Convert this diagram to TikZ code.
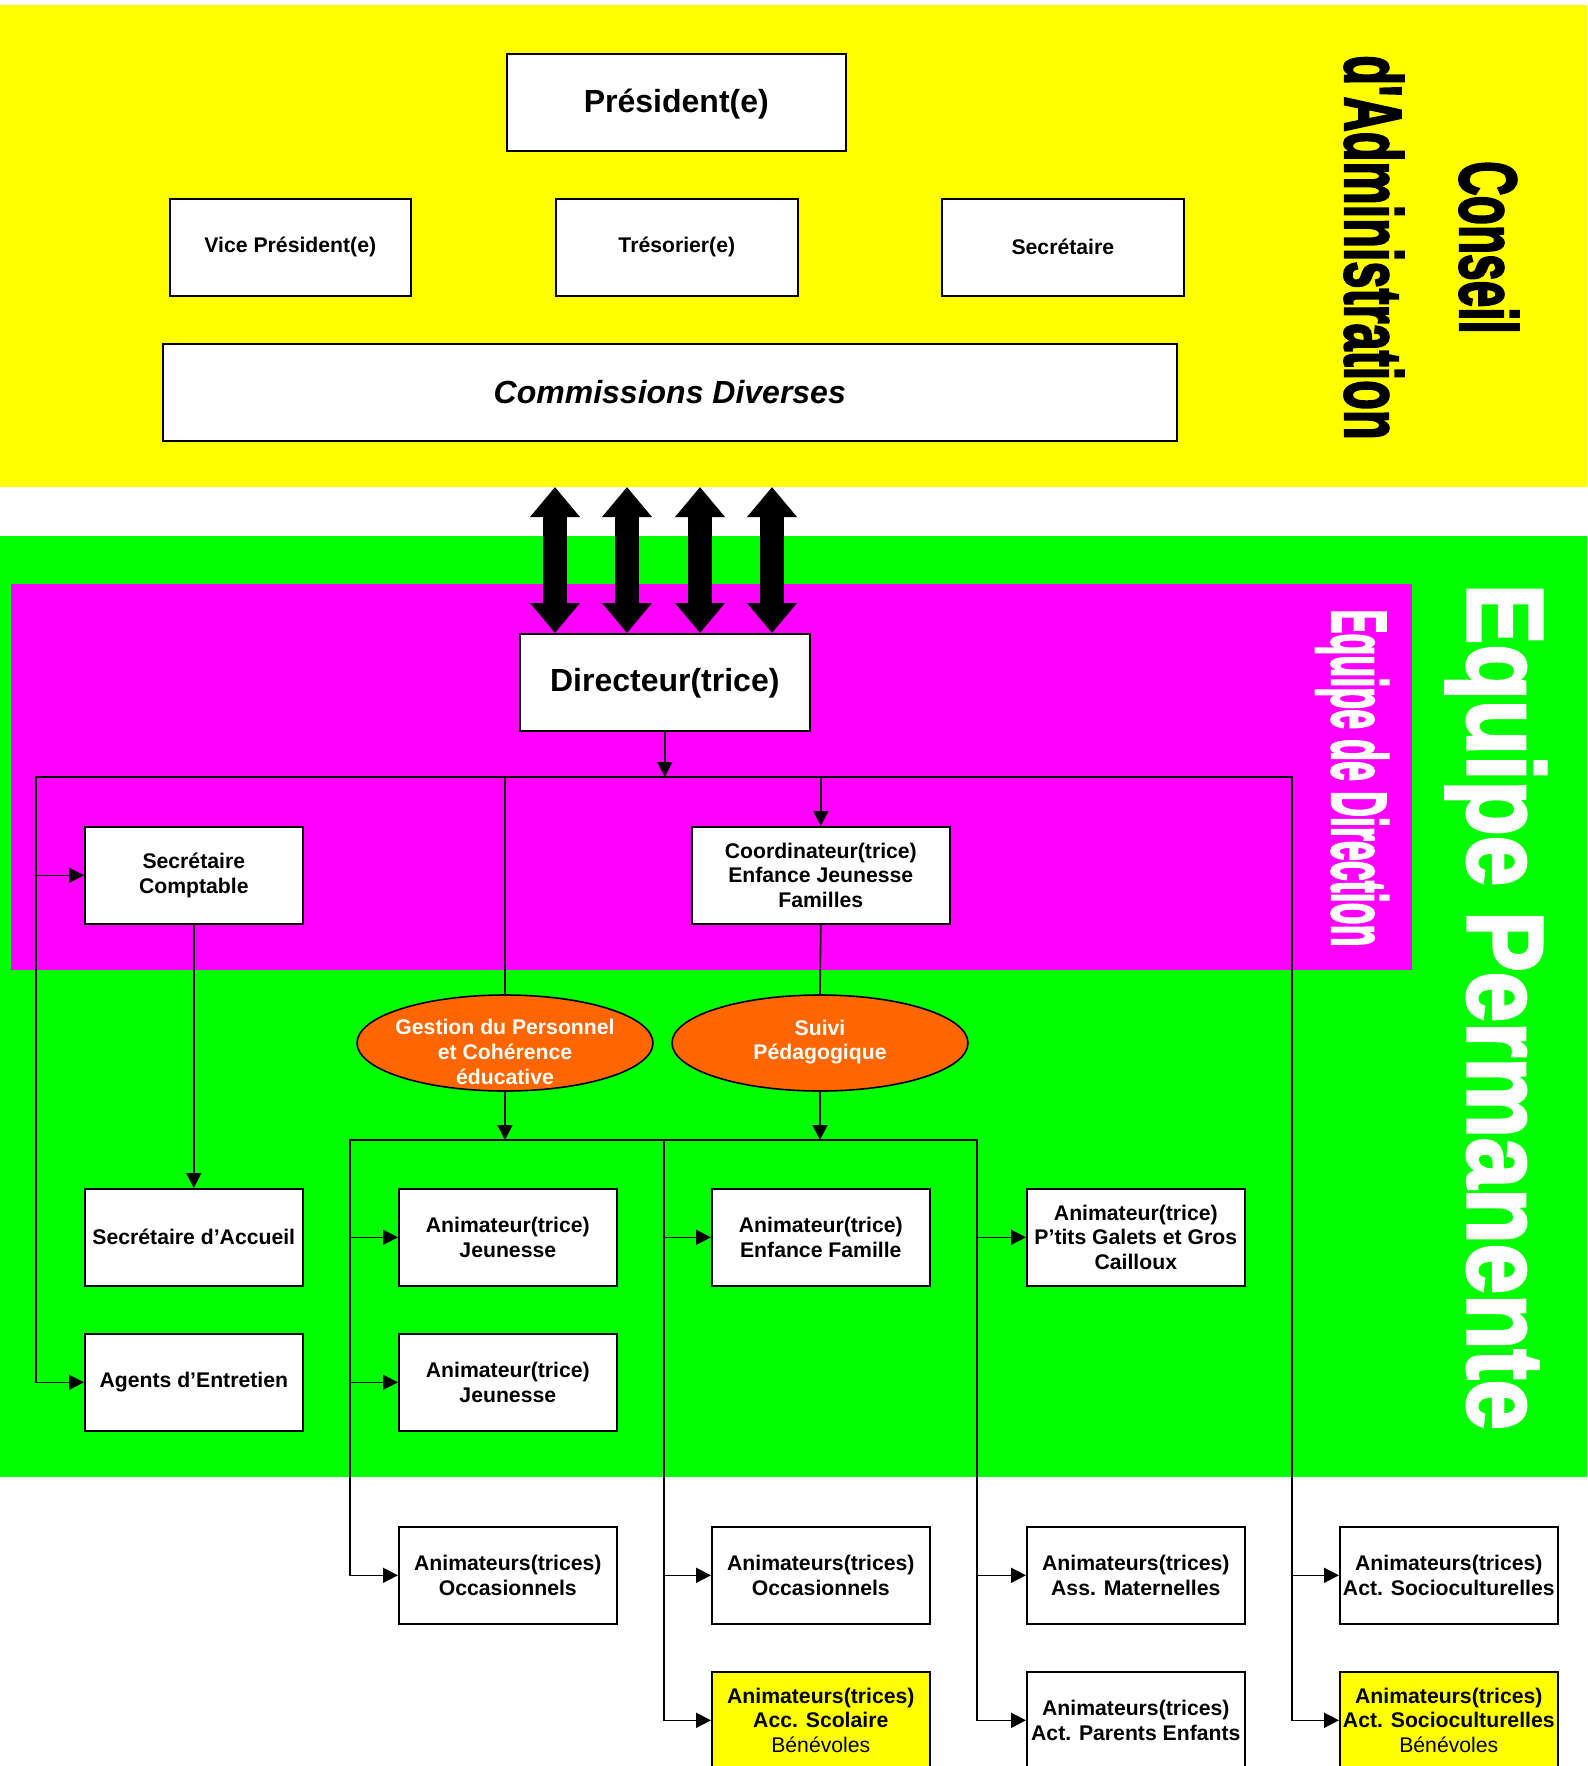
\documentclass[tikz,border=0pt]{standalone}
\usepackage{fontspec}
\usepackage{graphicx}
\setmainfont{Liberation Sans}
\newfontfamily\heavyfont{Liberation Sans Bold}[FakeBold=3]
\usetikzlibrary{arrows.meta,shapes.geometric}
\definecolor{cyel}{HTML}{FFFF00}
\definecolor{cgrn}{HTML}{00FF00}
\definecolor{cmag}{HTML}{FF00FF}
\definecolor{corg}{HTML}{FF6600}
\begin{document}
\begin{tikzpicture}[x=1pt,y=-1pt,
 box/.style={draw, line width=1.6pt, fill=white, anchor=north west, minimum width=218pt, minimum height=97pt, inner sep=0pt, align=center, font=\fontsize{21.2}{24.8}\selectfont\bfseries},
 bigbox/.style={box, font=\fontsize{32}{38}\selectfont\bfseries},
 ell/.style={draw, line width=1.6pt, ellipse, fill=corg, minimum width=296pt, minimum height=96pt, inner sep=0pt},
 elltext/.style={text=white, align=center, font=\fontsize{21.2}{24.8}\selectfont\bfseries, inner sep=0pt},
 conn/.style={line width=1.6pt, line cap=rect},
 arr/.style={conn, -{Triangle[length=15pt,width=15pt]}},
 dbl/.style={line width=24pt, {Triangle[length=30pt,width=48pt]}-{Triangle[length=30pt,width=48pt]}},
 vlabel/.style={rotate=-90, anchor=base, inner sep=0pt},
]
\useasboundingbox (0,0) rectangle (1587,1766);
% backgrounds
\fill[cyel] (0,5) rectangle (1587,487);
\fill[cgrn] (0,536) rectangle (1587,1477);
\fill[cmag] (11,584) rectangle (1412,970);
\coordinate (cabot) at (0,487);

% vertical labels
\node[vlabel, font=\fontsize{81}{81}\selectfont\heavyfont] (conseil) at (1460,247.5) {\scalebox{0.59}[1]{Conseil}};
\node[vlabel, font=\fontsize{81}{81}\selectfont\heavyfont] (admin) at (1345,247.5) {\scalebox{0.6}[1]{d'Administration}};
\node[vlabel, text=white, font=\fontsize{107.5}{107.5}\selectfont\heavyfont] (eperm) at (1468,1007) {\scalebox{0.843}[1]{Equipe Permanente}};
\node[vlabel, text=white, font=\fontsize{78}{78}\selectfont\heavyfont] (edir) at (1332,778) {\scalebox{0.46}[1]{Equipe de Direction}};

% conseil
\node[bigbox, minimum width=339pt, text depth=4pt] (pres) at (506,53) {Président(e)};
\node[box, minimum width=241pt] (vice) at (169,198) {Vice Président(e)};
\node[box, minimum width=242pt] (treso) at (555,198) {Trésorier(e)};
\node[box, minimum width=242pt] (secr) at (941,198) {Secrétaire};
\node[bigbox, minimum width=1014pt, font=\fontsize{32}{38}\selectfont\bfseries\itshape] (comm) at (162,343) {Commissions Diverses};

% direction
\node[bigbox, minimum width=290pt, text depth=4pt] (dir) at (519,633) {Directeur(trice)};
\node[box] (seccpt) at (84,826) {Secrétaire\\Comptable};
\node[box, minimum width=258pt] (coord) at (691,826) {Coordinateur(trice)\\Enfance Jeunesse\\Familles};
\node[ell] (gest) at (505,1043) {};
\node[ell] (suivi) at (820,1043) {};
\node[elltext] (gestt) at (505,1052) {Gestion du Personnel\\et Cohérence\\éducative};
\node[elltext] (suivit) at (820,1042) {Suivi\\Pédagogique};

% staff
\node[box] (accueil) at (84,1188) {Secrétaire d’Accueil};
\node[box] (agents) at (84,1333) {Agents d’Entretien};
\node[box] (jeun1) at (398,1188) {Animateur(trice)\\Jeunesse};
\node[box] (jeun2) at (398,1333) {Animateur(trice)\\Jeunesse};
\node[box] (enf) at (711,1188) {Animateur(trice)\\Enfance Famille};
\node[box] (galets) at (1026,1188) {Animateur(trice)\\P’tits Galets et Gros\\Cailloux};
\node[box] (occ1) at (398,1526) {Animateurs(trices)\\Occasionnels};
\node[box] (occ2) at (711,1526) {Animateurs(trices)\\Occasionnels};
\node[box] (assmat) at (1026,1526) {Animateurs(trices)\\Ass. Maternelles};
\node[box] (socio) at (1339,1526) {Animateurs(trices)\\Act. Socioculturelles};
\node[box, fill=cyel] (accsc) at (711,1671) {Animateurs(trices)\\Acc. Scolaire\\{\mdseries Bénévoles}};
\node[box] (parents) at (1026,1671) {Animateurs(trices)\\Act. Parents Enfants};
\node[box, fill=cyel] (sociob) at (1339,1671) {Animateurs(trices)\\Act. Socioculturelles\\{\mdseries Bénévoles}};

% thick double arrows
\foreach \x in {555,627,700,772} \draw[dbl] (\x,0 |- cabot) -- (\x,0 |- dir.north);

% top bus
\coordinate (bL) at (36,777);
\coordinate (bR) at (1292,777);
\draw[arr] (dir.south) -- (dir.south |- bL);
\draw[conn] (bL) -- (bR);
\draw[arr] (bL) |- (seccpt.west);
\draw[arr] (bL) |- (agents.west);
\draw[arr] (coord.north |- bL) -- (coord.north);
\draw[conn] (gest.north |- bL) -- (gest.north);
\draw[conn] (coord.south) -- (suivi.north);
\draw[arr] (bR) |- (socio.west);
\draw[arr] (bR) |- (sociob.west);
\draw[arr] (seccpt.south) -- (accueil.north);

% lower bus
\coordinate (cL) at (350,1140);
\coordinate (cM) at (664,1140);
\coordinate (cR) at (977,1140);
\draw[arr] (gest.south) -- (gest.south |- cL);
\draw[arr] (suivi.south) -- (suivi.south |- cL);
\draw[conn] (cL) -- (cR);
\draw[arr] (cL) |- (jeun1.west);
\draw[arr] (cL) |- (jeun2.west);
\draw[arr] (cL) |- (occ1.west);
\draw[arr] (cM) |- (enf.west);
\draw[arr] (cM) |- (occ2.west);
\draw[arr] (cM) |- (accsc.west);
\draw[arr] (cR) |- (galets.west);
\draw[arr] (cR) |- (assmat.west);
\draw[arr] (cR) |- (parents.west);
\end{tikzpicture}
\end{document}
